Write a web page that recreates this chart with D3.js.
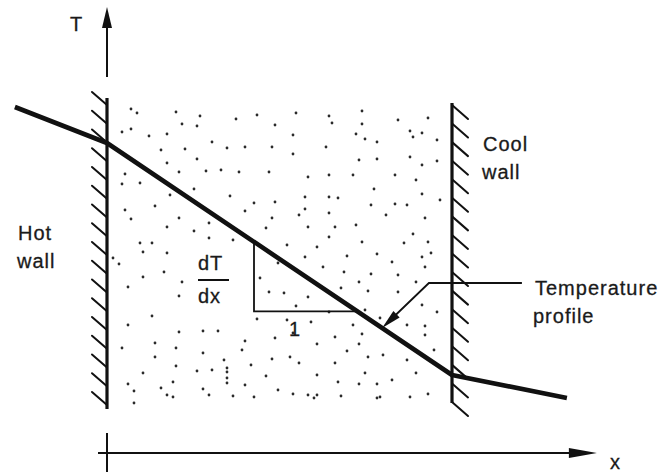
<!DOCTYPE html>
<html><head><meta charset="utf-8">
<script src="https://cdn.jsdelivr.net/npm/d3@7"></script>
<style>html,body{margin:0;padding:0;background:#fff}svg{display:block}</style>
</head><body><div id="chart"></div>
<script>
// ---- data (x: distance units, T: temperature units) ----
const profileX = [-30.7, 0, 115, 153.3];
const profileT = [134, 116, 0, -11.5];
const wallX = [0, 115];                 // hot wall, cool wall
const hotWallT = [138.5, -17];
const coolWallT = [136, -14];
const hatchCount = 17;
const hotHatchT = [135, -15];
const coolHatchT = [135, -13.5];
const slopeRunX = [49, 83.5];
const leaderX = [91.7, 107.3, 138.3];
const leaderT = [23.5, 46, 46];
const tAxisT = [149, 184];
const xAxisX = [-3, 163.3];
const xAxisT = -39;
const xTickT = [-29, -48.5];
const labels = ["T", "Hot", "wall", "Cool", "wall", "dT", "dx", "1", "Temperature", "profile", "x"];
// stipple dots (x, T)
const dotX = [8,10,23,31,43,50,56,5,8,14,20,25,30,35,18,26,40,46,55,30,20,24,33,38,44,54,6,5,11,29,21,41,49,56,16,6,46,8,24,55,34,20,29,53,34,
63,74,85,75,85,97,107,62,83,86,90,101,102,105,110,73,62,84,90,101,105,110,67,74,82,96,103,89,66,74,77,105,111,88,96,100,66,64,74,93,106,67,76,83,74,102,
99,107,105,108,
106,97,103,97,105,110,100,106,106,109,100,103,95,101,107,92,91,
4,12,19,7,25,24,15,7,24,32,37,50,46,56,5,16,23,32,45,16,39,55,23,30,35,40,40,40,48,53,12,7,9,18,22,32,34,40,46,20,22,42,49,9,51,54,
62,76,85,61,64,70,76,84,87,80,70,86,57,62,67,69,70,78,77,84,90,90,
60,70,85,80,90,66,57,72,79,88,84,78,59,67,87,63,82,
42,2,11,15,12,20,74,91,68,86,60,95];
const dotT = [133,131,131.5,129.5,128,130,125,121.5,123,119.5,120.5,125.5,124.5,116.5,112.5,113,113.5,114,114,108,106,101.5,102,102.5,101.5,101.5,100.5,95.5,96,93,90,89.5,86,86.5,84.5,82.5,82,78,78.5,78.5,76,74,72,73.5,68.5,
131,129.5,132,126,125.5,127.5,128.5,120,120.5,118,116.5,122,119,121,117.5,114,110.5,107.5,108,109,105,107,99,100,100,100,97.5,93,89,89,88.5,90.5,87.5,85,85.5,85,83,80,81,80,78.5,74,74,75,69,70.5,
66,66.5,59,61,
54,50,46.5,41.5,35,31.5,25,24.5,20,12.5,7.5,1,-2.5,-11,-9.5,10,-11,
55.5,49,51.5,44,46.5,39.5,29.5,25,21.5,22,22,28,17,18.5,13.5,16,13.5,11,12.5,9,7.5,8,4.5,2,2.5,3.5,1.5,-1.5,5,-0.5,1,-4.5,-8,-6.5,-3.5,-7,-10,-4,-5,-10,-11,-10.5,-11,-14,48.5,41.5,
21,19,20.5,9,6,15.5,6,15.5,9,12,0,1,-7.5,-9.5,-10,-11.5,-10,-10.5,-3.5,-4.5,-4.5,-11.5,
65,64,66.5,59.5,60.5,59,56,54,51.5,50.5,46.5,43.5,41,39,42,34.5,25,
67.5,58.5,66,66,61.5,61,31.5,28.5,26.5,32.5,27.5,56.5];

// ---- drawing ----
const W = 664, H = 474;
const x = d3.scaleLinear().domain([0, 115]).range([107, 452]);
const y = d3.scaleLinear().domain([0, 116]).range([375, 143]);
const svg = d3.select("#chart").append("svg").attr("width", W).attr("height", H);
const ink = "#111";
const font = "'Liberation Sans', Arial, Helvetica, sans-serif";

// stipple
svg.append("g").selectAll("circle").data(dotX.map((d, i) => [d, dotT[i]])).join("circle")
  .attr("cx", d => x(d[0])).attr("cy", d => y(d[1])).attr("r", 1.4).attr("fill", "#2a2a2a");

// walls
const hatch = svg.append("g").attr("stroke", ink).attr("stroke-width", 2).attr("stroke-linecap", "round");
[[wallX[0], hotWallT, hotHatchT, -15, -13], [wallX[1], coolWallT, coolHatchT, 16, 14]].forEach(([wx, wt, ht, dx, dy]) => {
  svg.append("line").attr("x1", x(wx)).attr("x2", x(wx)).attr("y1", y(wt[0])).attr("y2", y(wt[1]))
    .attr("stroke", ink).attr("stroke-width", 3.2);
  const hs = d3.scaleLinear().domain([0, hatchCount - 1]).range(ht);
  d3.range(hatchCount).forEach(i => {
    hatch.append("line").attr("x1", x(wx)).attr("y1", y(hs(i))).attr("x2", x(wx) + dx).attr("y2", y(hs(i)) + dy);
  });
});

// slope triangle
const prof = d3.scaleLinear().domain(profileX).range(profileT);
svg.append("path").attr("fill", "none").attr("stroke", ink).attr("stroke-width", 1.8)
  .attr("d", d3.line()([[x(slopeRunX[0]), y(prof(slopeRunX[0]))], [x(slopeRunX[0]), y(prof(slopeRunX[1]))], [x(slopeRunX[1]), y(prof(slopeRunX[1]))]]));

// temperature profile
svg.append("path").attr("fill", "none").attr("stroke", ink).attr("stroke-width", 4.6)
  .attr("stroke-linejoin", "round").attr("stroke-linecap", "butt")
  .attr("d", d3.line().x(d => x(d[0])).y(d => y(d[1]))(profileX.map((d, i) => [d, profileT[i]])));

// leader with arrow
const lp = leaderX.map((d, i) => [x(d), y(leaderT[i])]);
function arrowHead(tip, from, len, half) {
  const dx = from[0] - tip[0], dy = from[1] - tip[1], L = Math.hypot(dx, dy);
  const ux = dx / L, uy = dy / L, bx = tip[0] + ux * len, by = tip[1] + uy * len;
  return `M${tip[0]},${tip[1]}L${bx - uy * half},${by + ux * half}L${bx + uy * half},${by - ux * half}Z`;
}
svg.append("path").attr("fill", "none").attr("stroke", ink).attr("stroke-width", 1.8)
  .attr("d", d3.line()([lp[0].map((v, k) => v + (lp[1][k] - v) * 0.25), lp[1], lp[2]]));
svg.append("path").attr("fill", ink).attr("d", arrowHead(lp[0], lp[1], 20, 4.5));

// T axis
svg.append("line").attr("x1", x(0)).attr("x2", x(0)).attr("y1", y(tAxisT[0])).attr("y2", y(tAxisT[1]) + 15)
  .attr("stroke", ink).attr("stroke-width", 2);
svg.append("path").attr("fill", ink).attr("d", arrowHead([x(0), y(tAxisT[1])], [x(0), y(tAxisT[0])], 21, 5));

// x axis
svg.append("line").attr("x1", x(xAxisX[0])).attr("x2", x(xAxisX[1]) - 15).attr("y1", y(xAxisT)).attr("y2", y(xAxisT))
  .attr("stroke", ink).attr("stroke-width", 2);
svg.append("path").attr("fill", ink).attr("d", arrowHead([x(xAxisX[1]), y(xAxisT)], [x(xAxisX[0]), y(xAxisT)], 28, 5));
svg.append("line").attr("x1", x(0)).attr("x2", x(0)).attr("y1", y(xTickT[0])).attr("y2", y(xTickT[1]))
  .attr("stroke", ink).attr("stroke-width", 2);

// fraction bar
svg.append("line").attr("x1", 198).attr("x2", 229).attr("y1", 280).attr("y2", 280).attr("stroke", ink).attr("stroke-width", 2);

// labels
const pos = [[70, 31], [18, 240], [17, 268], [483, 151], [482, 179], [198, 270], [198, 303], [289, 336], [535, 295], [533, 323], [610, 469]];
svg.append("g").selectAll("text").data(labels).join("text")
  .attr("x", (d, i) => pos[i][0]).attr("y", (d, i) => pos[i][1])
  .attr("font-family", font).attr("font-size", 20).attr("letter-spacing", 1).attr("fill", "#1a1a1a")
  .attr("stroke", "#1a1a1a").attr("stroke-width", 0.3)
  .text(d => d);
</script></body></html>
